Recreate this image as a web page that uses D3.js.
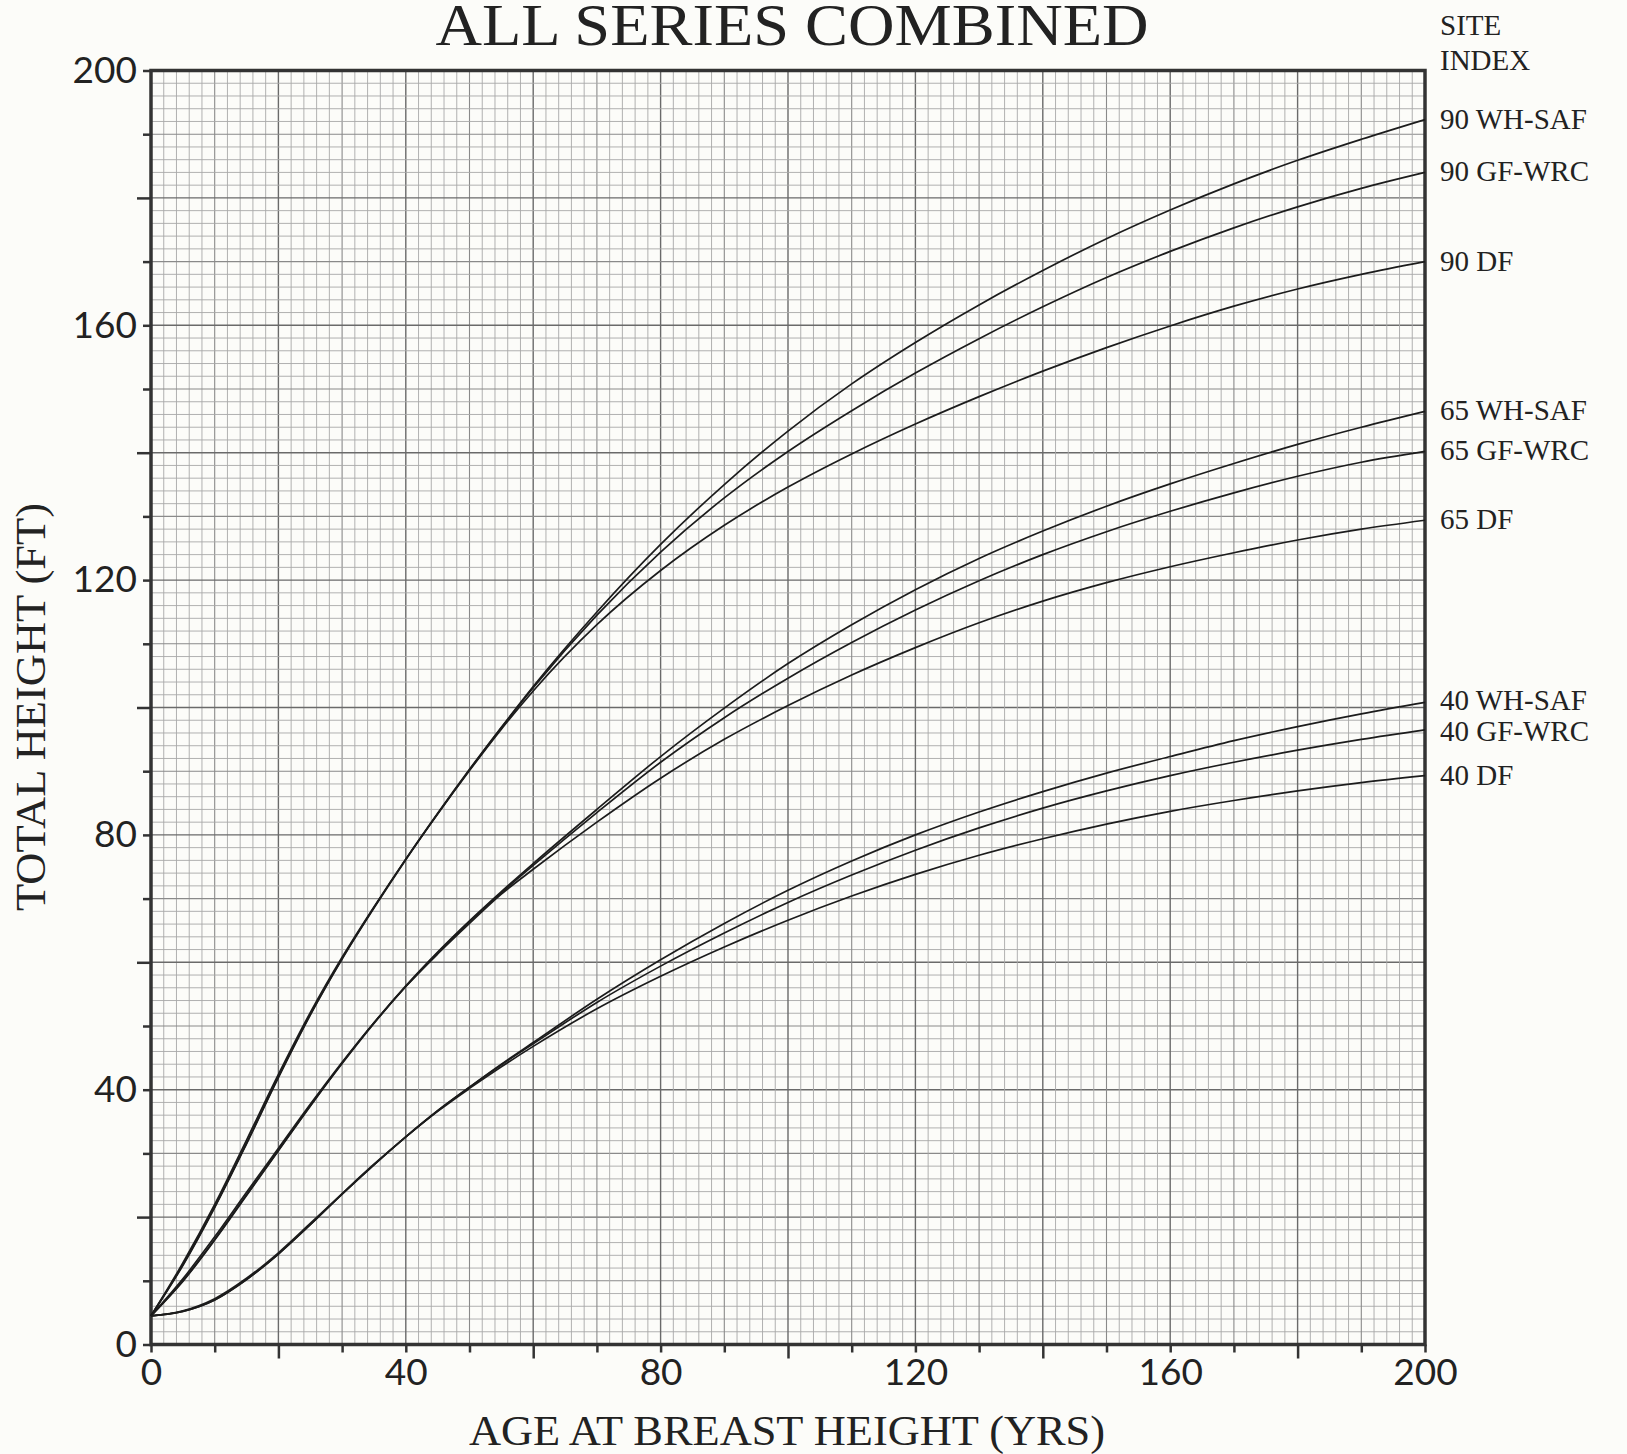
<!DOCTYPE html>
<html>
<head>
<meta charset="utf-8">
<script src="https://cdn.jsdelivr.net/npm/d3@7"></script>
<style>
  html, body { margin: 0; padding: 0; background: #fcfcf9; }
  svg { display: block; }
</style>
</head>
<body>
<svg id="chart" width="1627" height="1454"></svg>
<script>
// ---- DATA ----
const ages = [0,5,10,15,20,25,30,35,40,45,50,55,60,70,80,90,100,110,120,130,140,150,160,170,180,190,200];

const si90_WH = [4.5,12.5,21.6,31.6,42.0,51.8,60.6,68.6,76.2,83.4,90.3,96.9,103.3,115.0,125.6,135.0,143.4,150.8,157.3,163.2,168.6,173.6,178.1,182.2,185.9,189.2,192.3];
const si90_GF = [4.5,12.4,21.5,31.5,41.9,51.7,60.5,68.5,76.1,83.3,90.2,96.8,103.1,114.5,124.4,132.9,140.2,146.6,152.5,157.9,162.9,167.5,171.6,175.3,178.6,181.5,184.0];
const si90_DF = [4.5,12.8,22.0,32.1,42.4,52.1,60.8,68.7,76.2,83.3,90.1,96.6,102.6,113.0,121.5,128.6,134.6,139.8,144.5,148.8,152.8,156.5,159.9,163.0,165.7,168.0,170.0];

const si65_WH = [4.5,10.0,16.5,23.5,30.5,37.5,44.2,50.5,56.3,61.6,66.5,71.1,75.5,84.0,92.3,99.9,106.9,113.0,118.5,123.4,127.7,131.6,135.1,138.3,141.3,144.0,146.5];
const si65_GF = [4.5,9.9,16.4,23.4,30.4,37.4,44.1,50.4,56.2,61.5,66.4,70.9,75.2,83.5,91.4,98.4,104.6,110.2,115.3,119.9,124.0,127.6,130.8,133.7,136.3,138.5,140.2];
const si65_DF = [4.5,10.3,16.9,23.9,30.8,37.7,44.3,50.5,56.2,61.3,66.1,70.7,74.6,82.0,88.9,95.0,100.3,105.1,109.4,113.3,116.7,119.6,122.1,124.3,126.3,128.0,129.4];

const si40_WH = [4.5,5.2,7.0,10.2,14.2,18.8,23.6,28.2,32.6,36.7,40.4,44.0,47.4,54.2,60.4,66.1,71.3,75.9,80.0,83.6,86.8,89.7,92.3,94.8,97.0,99.0,100.8];
const si40_GF = [4.5,5.2,7.0,10.2,14.2,18.8,23.6,28.2,32.6,36.7,40.4,43.9,47.2,53.7,59.4,64.6,69.4,73.7,77.6,81.1,84.2,86.9,89.3,91.4,93.3,95.0,96.5];
const si40_DF = [4.5,5.3,7.2,10.4,14.4,19.0,23.7,28.3,32.6,36.6,40.2,43.6,46.8,52.7,57.8,62.4,66.6,70.4,73.8,76.8,79.4,81.7,83.7,85.4,86.9,88.2,89.3];

const seriesLabels = ["90 WH-SAF","90 GF-WRC","90 DF","65 WH-SAF","65 GF-WRC","65 DF","40 WH-SAF","40 GF-WRC","40 DF"];
const seriesValues = [si90_WH, si90_GF, si90_DF, si65_WH, si65_GF, si65_DF, si40_WH, si40_GF, si40_DF];

const xTickLabels = [0,40,80,120,160,200];
const yTickLabels = [0,40,80,120,160,200];

const titleText = "ALL SERIES COMBINED";
const xTitle = "AGE AT BREAST HEIGHT (YRS)";
const yTitle = "TOTAL HEIGHT (FT)";
const legendHeader = ["SITE", "INDEX"];

// ---- LAYOUT ----
const svg = d3.select("#chart");
const L = 151, R = 1425, T = 70.5, B = 1344.5;
const x = d3.scaleLinear().domain([0, 200]).range([L, R]);
const y = d3.scaleLinear().domain([0, 200]).range([B, T]);

const serif = "'Liberation Serif', 'DejaVu Serif', serif";
const numFont = "Lato, 'Open Sans', sans-serif";
const ink = "#222";

// grid
const grid = svg.append("g");
d3.range(0, 201, 2).forEach(v => {
  const major = v % 20 === 0, mid = v % 10 === 0;
  const col = major ? "#6a6a6a" : (mid ? "#8a8a8a" : "#a8a8a8");
  const w = major ? 1.4 : (mid ? 1.1 : 0.9);
  grid.append("line").attr("x1", x(v)).attr("x2", x(v)).attr("y1", y(0)).attr("y2", y(200))
    .attr("stroke", col).attr("stroke-width", w);
  grid.append("line").attr("x1", x(0)).attr("x2", x(200)).attr("y1", y(v)).attr("y2", y(v))
    .attr("stroke", col).attr("stroke-width", w);
});

// axes ticks
const shortX = d3.range(0, 201, 10).filter(v => !(v % 20 === 0 && v % 40 !== 0));
const longX = d3.range(20, 200, 40);

function styleAxis(g) {
  g.select(".domain").remove();
  g.selectAll(".tick line").attr("stroke", "#333").attr("stroke-width", 2.5);
  g.selectAll(".tick text").attr("font-family", numFont).attr("font-size", 37).attr("fill", ink);
}

svg.append("g").attr("transform", `translate(0,${B})`)
  .call(d3.axisBottom(x).tickValues(shortX).tickSize(8).tickPadding(6)
    .tickFormat(d => xTickLabels.includes(d) ? d : ""))
  .call(styleAxis);
svg.append("g").attr("transform", `translate(0,${B})`)
  .call(d3.axisBottom(x).tickValues(longX).tickSize(14).tickFormat(""))
  .call(styleAxis);

svg.append("g").attr("transform", `translate(${L},0)`)
  .call(d3.axisLeft(y).tickValues(shortX).tickSize(8).tickPadding(6)
    .tickFormat(d => yTickLabels.includes(d) ? d : ""))
  .call(styleAxis);
svg.append("g").attr("transform", `translate(${L},0)`)
  .call(d3.axisLeft(y).tickValues(longX).tickSize(14).tickFormat(""))
  .call(styleAxis);

// frame
svg.append("rect").attr("x", L).attr("y", T).attr("width", R - L).attr("height", B - T)
  .attr("fill", "none").attr("stroke", "#333").attr("stroke-width", 3.5);

// curves
const line = d3.line().x((d, i) => x(ages[i])).y(d => y(d)).curve(d3.curveMonotoneX);
svg.append("g").selectAll("path").data(seriesValues).join("path")
  .attr("d", d => line(d)).attr("fill", "none").attr("stroke", "#1c1c1c").attr("stroke-width", 1.7);

// labels with simple collision avoidance
const labelPos = seriesValues.map((d, i) => ({ i, yy: y(d[d.length - 1]) + 9 }));
labelPos.sort((a, b) => a.yy - b.yy);
const minGap = 31;
for (let k = 1; k < labelPos.length; k++) {
  const gap = labelPos[k].yy - labelPos[k - 1].yy;
  if (gap < minGap) {
    const push = (minGap - gap) / 2;
    labelPos[k - 1].yy -= push;
    labelPos[k].yy += push;
  }
}
labelPos.sort((a, b) => a.i - b.i);

svg.append("g").selectAll("text").data(labelPos).join("text")
  .attr("x", R + 15).attr("y", d => d.yy)
  .attr("font-family", serif).attr("font-size", 29).attr("fill", ink)
  .text(d => seriesLabels[d.i]);

svg.append("g").selectAll("text").data(legendHeader).join("text")
  .attr("x", R + 15).attr("y", (d, i) => 35 + i * 35)
  .attr("font-family", serif).attr("font-size", 29).attr("fill", ink)
  .text(d => d);

// titles
svg.append("text").attr("x", 792).attr("y", 45).attr("text-anchor", "middle")
  .attr("font-family", serif).attr("font-size", 60).attr("fill", ink)
  .attr("textLength", 713).attr("lengthAdjust", "spacingAndGlyphs")
  .text(titleText);

svg.append("text").attr("x", 787).attr("y", 1445).attr("text-anchor", "middle")
  .attr("font-family", serif).attr("font-size", 42).attr("fill", ink)
  .attr("textLength", 636).attr("lengthAdjust", "spacingAndGlyphs")
  .text(xTitle);

svg.append("text").attr("transform", "translate(45,707) rotate(-90)").attr("text-anchor", "middle")
  .attr("font-family", serif).attr("font-size", 43).attr("fill", ink)
  .attr("textLength", 408).attr("lengthAdjust", "spacingAndGlyphs")
  .text(yTitle);
</script>
</body>
</html>
